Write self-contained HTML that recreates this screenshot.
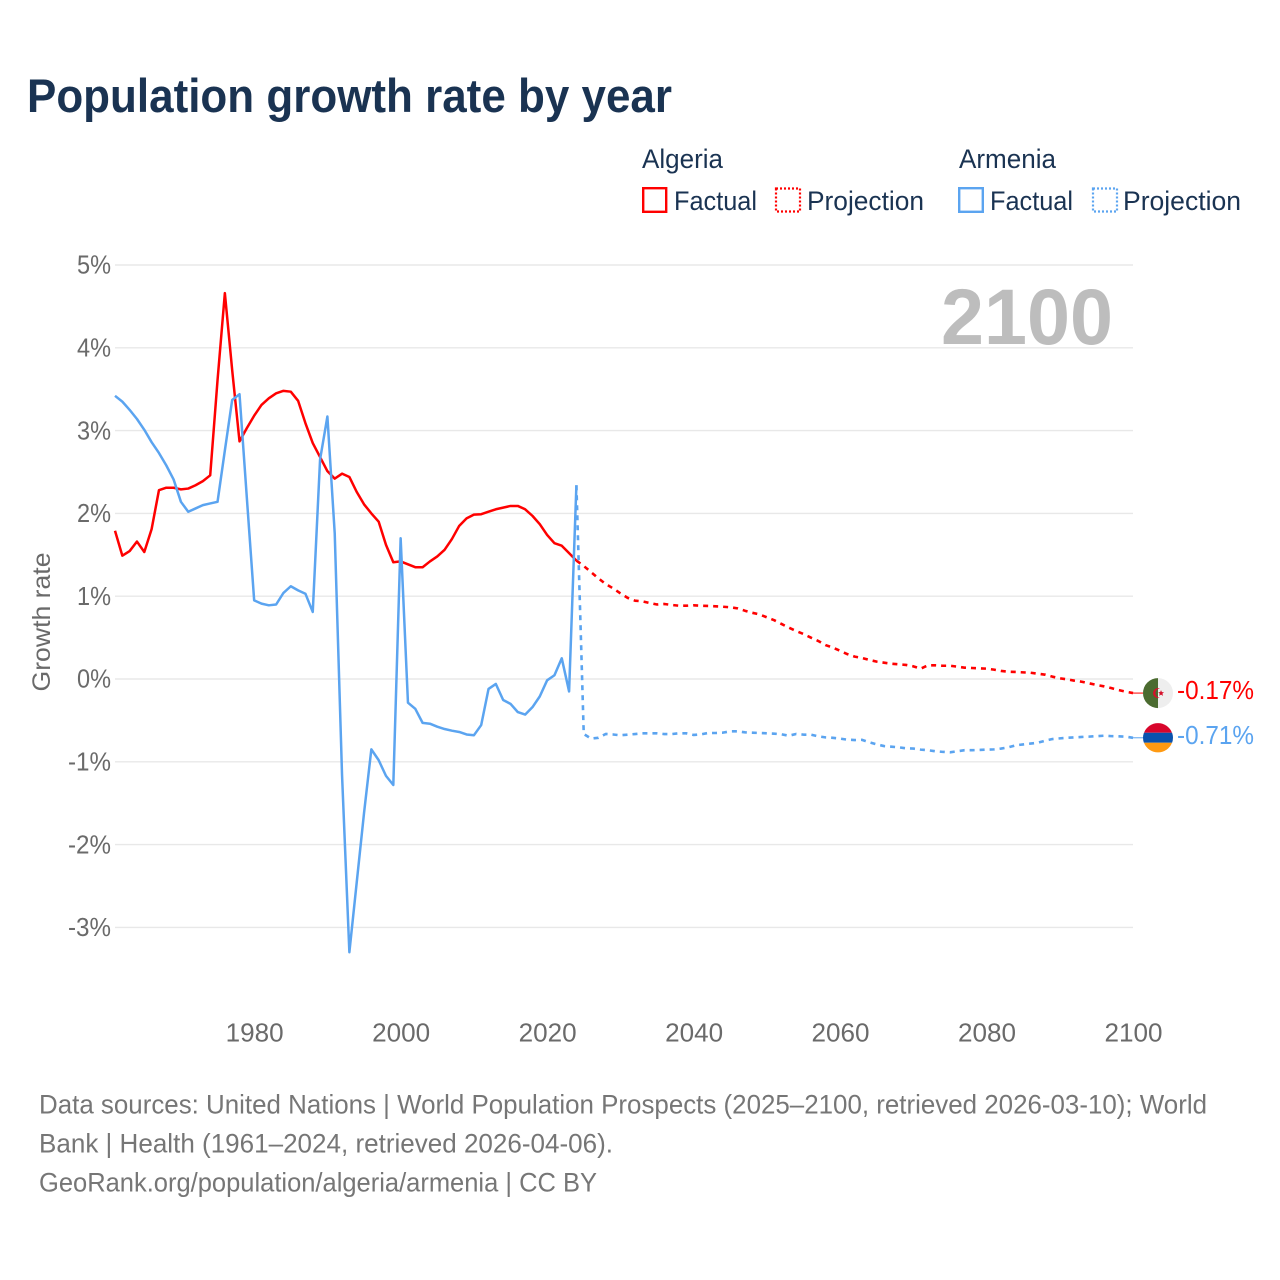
<!DOCTYPE html>
<html lang="en">
<head>
<meta charset="utf-8">
<title>Population growth rate by year</title>
<style>
  html, body { margin: 0; padding: 0; background: #fff; }
  svg { display: block; }
  text { font-family: "Liberation Sans", sans-serif; }
</style>
</head>
<body>
<svg id="chart" xmlns="http://www.w3.org/2000/svg" width="1280" height="1280" viewBox="0 0 1280 1280">
  <rect x="0" y="0" width="1280" height="1280" fill="#ffffff"/>
  <text x="27" y="112" font-size="47" font-weight="700" fill="#1a3352" textLength="645" lengthAdjust="spacingAndGlyphs">Population growth rate by year</text>

  <g font-size="27" fill="#1a3352">
    <text x="642" y="168" textLength="81" lengthAdjust="spacingAndGlyphs">Algeria</text>
    <rect x="643.2" y="188.2" width="23" height="23.6" fill="none" stroke="#ff0000" stroke-width="2.4"/>
    <text x="674" y="210" textLength="83" lengthAdjust="spacingAndGlyphs">Factual</text>
    <rect x="776" y="188.5" width="24" height="23" fill="none" stroke="#ff0000" stroke-width="2.2" stroke-dasharray="2 2"/>
    <text x="807" y="210" textLength="117" lengthAdjust="spacingAndGlyphs">Projection</text>
    <text x="959" y="168" textLength="97" lengthAdjust="spacingAndGlyphs">Armenia</text>
    <rect x="959.2" y="188.2" width="23.6" height="23.6" fill="none" stroke="#5ba4f0" stroke-width="2.4"/>
    <text x="990" y="210" textLength="83" lengthAdjust="spacingAndGlyphs">Factual</text>
    <rect x="1093" y="188.5" width="24" height="23" fill="none" stroke="#5ba4f0" stroke-width="2.2" stroke-dasharray="2 2"/>
    <text x="1123" y="210" textLength="118" lengthAdjust="spacingAndGlyphs">Projection</text>
  </g>

  <g id="grid"></g>
  <g id="yticks" font-size="26" fill="#6a6a6a"></g>
  <g id="xticks" font-size="26" fill="#6a6a6a"></g>
  <text transform="translate(50 622) rotate(-90)" text-anchor="middle" font-size="25" fill="#6a6a6a" textLength="139" lengthAdjust="spacingAndGlyphs">Growth rate</text>
  <text x="941" y="344" font-size="79" font-weight="700" fill="#bdbdbd" textLength="172" lengthAdjust="spacingAndGlyphs">2100</text>

  <g id="series" fill="none" stroke-linejoin="round"></g>
  <g id="endmarks"></g>

  <g font-size="27" fill="#767676">
    <text x="39" y="1113.5" textLength="1168" lengthAdjust="spacingAndGlyphs">Data sources: United Nations | World Population Prospects (2025–2100, retrieved 2026-03-10); World</text>
    <text x="39" y="1152.5" textLength="574" lengthAdjust="spacingAndGlyphs">Bank | Health (1961–2024, retrieved 2026-04-06).</text>
    <text x="39" y="1191.5" textLength="558" lengthAdjust="spacingAndGlyphs">GeoRank.org/population/algeria/armenia | CC BY</text>
  </g>
</svg>

<script>
const factualStartYear = 1961;
const projectionStartYear = 2024;
const xTickLabels = [1980, 2000, 2020, 2040, 2060, 2080, 2100];
const yTickLabels = [5, 4, 3, 2, 1, 0, -1, -2, -3];

const algeriaFactual = [
  1.79, 1.49, 1.545, 1.66, 1.534, 1.81, 2.28, 2.31, 2.31, 2.29,
  2.30, 2.34, 2.39, 2.46, 3.61, 4.66, 3.73, 2.87, 3.03, 3.18,
  3.31, 3.39, 3.45, 3.48, 3.47, 3.36, 3.09, 2.85, 2.68, 2.51,
  2.42, 2.48, 2.44, 2.26, 2.11, 2.0, 1.90, 1.62, 1.41, 1.42,
  1.385, 1.35, 1.35, 1.42, 1.48, 1.56, 1.69, 1.85, 1.94, 1.985,
  1.99, 2.02, 2.05, 2.07, 2.09, 2.09, 2.05, 1.97, 1.87, 1.74,
  1.64, 1.61, 1.52, 1.43
];

const armeniaFactual = [
  3.42, 3.35, 3.25, 3.14, 3.01, 2.86, 2.73, 2.58, 2.41, 2.14,
  2.02, 2.06, 2.10, 2.12, 2.14, 2.76, 3.37, 3.44, 2.19, 0.95,
  0.91, 0.89, 0.90, 1.04, 1.12, 1.07, 1.03, 0.81, 2.65, 3.17,
  1.76, -1.16, -3.30, -2.46, -1.62, -0.85, -0.98, -1.17, -1.28, 1.70,
  -0.286, -0.36, -0.53, -0.54, -0.576, -0.604, -0.624, -0.64, -0.67, -0.68,
  -0.556, -0.12, -0.06, -0.254, -0.30, -0.40, -0.43, -0.34, -0.21, -0.016,
  0.045, 0.25, -0.15, 2.34
];

const algeriaProjection = [
  1.43, 1.365, 1.29, 1.216, 1.147, 1.095, 1.035, 0.98, 0.946, 0.938,
  0.918, 0.90, 0.906, 0.894, 0.885, 0.885, 0.89, 0.885, 0.882, 0.878,
  0.873, 0.866, 0.853, 0.825, 0.80, 0.78, 0.745, 0.71, 0.665, 0.62,
  0.58, 0.544, 0.50, 0.46, 0.41, 0.38, 0.34, 0.30, 0.27, 0.254,
  0.23, 0.21, 0.197, 0.185, 0.177, 0.17, 0.153, 0.125, 0.165, 0.165,
  0.16, 0.16, 0.149, 0.137, 0.133, 0.129, 0.125, 0.113, 0.097, 0.088,
  0.085, 0.08, 0.076, 0.064, 0.052, 0.028, 0.008, -0.004, -0.02, -0.033,
  -0.052, -0.072, -0.088, -0.109, -0.133, -0.153, -0.17
];

const armeniaProjection = [
  2.34, -0.664, -0.72, -0.71, -0.664, -0.67, -0.68, -0.672, -0.665, -0.656,
  -0.656, -0.656, -0.665, -0.665, -0.656, -0.656, -0.676, -0.668, -0.652, -0.652,
  -0.648, -0.632, -0.632, -0.644, -0.648, -0.652, -0.656, -0.66, -0.668, -0.685,
  -0.664, -0.672, -0.672, -0.692, -0.705, -0.71, -0.72, -0.733, -0.737, -0.735,
  -0.765, -0.79, -0.81, -0.817, -0.825, -0.837, -0.84, -0.853, -0.86, -0.873,
  -0.88, -0.885, -0.873, -0.86, -0.86, -0.857, -0.853, -0.85, -0.84, -0.825,
  -0.80, -0.79, -0.78, -0.77, -0.745, -0.725, -0.717, -0.71, -0.705, -0.70,
  -0.696, -0.69, -0.685, -0.69, -0.692, -0.696, -0.71
];

const SVG_NS = 'http://www.w3.org/2000/svg';
const RED = '#ff0000';
const BLUE = '#5ba4f0';

function xScale(year) {
  return 115 + (year - 1961) * 7.324;
}
function yScale(value) {
  return 679 - value * 82.8;
}
function make(tag, parent, attrs) {
  const el = document.createElementNS(SVG_NS, tag);
  for (const k in attrs) el.setAttribute(k, attrs[k]);
  parent.appendChild(el);
  return el;
}
function linePath(startYear, values) {
  return values.map(function (v, i) {
    return (i ? 'L' : 'M') + xScale(startYear + i).toFixed(2) + ' ' + yScale(v).toFixed(2);
  }).join(' ');
}

const gridGroup = document.getElementById('grid');
const yTickGroup = document.getElementById('yticks');
const xTickGroup = document.getElementById('xticks');
const seriesGroup = document.getElementById('series');
const endGroup = document.getElementById('endmarks');

yTickLabels.forEach(function (t) {
  const gridLine = make('line', gridGroup, { x1: 115, x2: 1133, y1: yScale(t), y2: yScale(t), stroke: '#e8e8e8', 'stroke-width': 1.4 });
  
  
  const label = make('text', yTickGroup, { x: t < 0 ? 68 : 77, y: yScale(t) + 8.7, textLength: t < 0 ? 43 : 34, lengthAdjust: 'spacingAndGlyphs' });
  label.textContent = t + '%';
  
  
});

xTickLabels.forEach(function (t) {
  const label = make('text', xTickGroup, { x: xScale(t) - 28.5, y: 1041.5, textLength: 58, lengthAdjust: 'spacingAndGlyphs' });
  label.textContent = String(t);
  
  
});

const algeriaFactualLine = make('path', seriesGroup, { d: linePath(factualStartYear, algeriaFactual), stroke: RED, 'stroke-width': 2.5 });



const algeriaProjectionLine = make('path', seriesGroup, { d: linePath(projectionStartYear, algeriaProjection), stroke: RED, 'stroke-width': 2.6, 'stroke-dasharray': '5 5' });



const armeniaProjectionLine = make('path', seriesGroup, { d: linePath(projectionStartYear, armeniaProjection), stroke: BLUE, 'stroke-width': 2.6, 'stroke-dasharray': '5 5' });



const armeniaFactualLine = make('path', seriesGroup, { d: linePath(factualStartYear, armeniaFactual), stroke: BLUE, 'stroke-width': 2.5 });



const algeriaLast = algeriaProjection[algeriaProjection.length - 1];
const armeniaLast = armeniaProjection[armeniaProjection.length - 1];
const lastX = xScale(projectionStartYear + algeriaProjection.length - 1);

const algeriaLeader = make('line', endGroup, { x1: lastX, x2: 1144, y1: yScale(algeriaLast), y2: yScale(algeriaLast), stroke: RED, 'stroke-width': 1 });



const armeniaLeader = make('line', endGroup, { x1: lastX, x2: 1144, y1: yScale(armeniaLast), y2: yScale(armeniaLast), stroke: BLUE, 'stroke-width': 1 });



const flagAlgeria = make('g', endGroup, { transform: 'translate(1158 ' + yScale(algeriaLast) + ')' });


make('circle', flagAlgeria, { r: 15, fill: '#eeeeee' });
make('path', flagAlgeria, { d: 'M0 -15 A15 15 0 0 0 0 15 Z', fill: '#4b6b30' });
make('path', flagAlgeria, { d: 'M2 -4.6 A5 5 0 1 0 2 4.6 A4 4 0 1 1 2 -4.6 Z', fill: '#d5102a' });
make('path', flagAlgeria, { d: 'M3 -3 L3.9 -0.9 L6 -0.8 L4.4 0.6 L5 2.8 L3 1.6 L1.2 2.8 L1.7 0.6 L0.2 -0.8 L2.2 -0.9 Z', fill: '#d5102a' });

const flagArmenia = make('g', endGroup, { transform: 'translate(1158 ' + yScale(armeniaLast) + ')' });


make('path', flagArmenia, { d: 'M-14 -5 A15 15 0 0 1 14 -5 Z', fill: '#d8062c' });
make('path', flagArmenia, { d: 'M-14.1 -5 L14.1 -5 A15 15 0 0 1 14.1 5 L-14.1 5 A15 15 0 0 1 -14.1 -5 Z', fill: '#0a52ad' });
make('path', flagArmenia, { d: 'M-14 5 A15 15 0 0 0 14 5 Z', fill: '#ff9a12' });

const algeriaValue = make('text', endGroup, { x: 1177, y: yScale(algeriaLast) + 6, 'font-size': 26, fill: RED, textLength: 77, lengthAdjust: 'spacingAndGlyphs' });
algeriaValue.textContent = algeriaLast.toFixed(2) + '%';



const armeniaValue = make('text', endGroup, { x: 1177, y: yScale(armeniaLast) + 6, 'font-size': 26, fill: BLUE, textLength: 77, lengthAdjust: 'spacingAndGlyphs' });
armeniaValue.textContent = armeniaLast.toFixed(2) + '%';


</script>
</body>
</html>
